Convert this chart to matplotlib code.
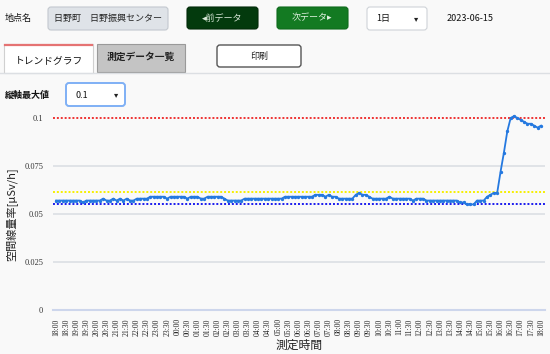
import matplotlib
matplotlib.use("Agg")
import matplotlib.pyplot as plt
from matplotlib.patches import FancyBboxPatch, Rectangle
import numpy as np
import pandas as pd

plt.rcParams['font.family'] = ['Noto Sans CJK JP', 'DejaVu Sans']

# データ (10分間隔, 18:00 〜 翌18:00)
dose_rate = [
    0.057, 0.057, 0.057, 0.057, 0.057, 0.057, 0.057, 0.057, 0.056, 0.057, 0.057, 0.057,
    0.057, 0.057, 0.058, 0.057, 0.057, 0.058, 0.057, 0.058, 0.057, 0.058, 0.057, 0.057,
    0.058, 0.058, 0.058, 0.058, 0.059, 0.059, 0.059, 0.059, 0.059, 0.058, 0.059, 0.059,
    0.059, 0.059, 0.059, 0.058, 0.059, 0.059, 0.059, 0.058, 0.058, 0.059, 0.059, 0.059,
    0.059, 0.059, 0.058, 0.057, 0.057, 0.057, 0.057, 0.057, 0.058, 0.058, 0.058, 0.058,
    0.058, 0.058, 0.058, 0.058, 0.058, 0.058, 0.058, 0.058, 0.059, 0.059, 0.059, 0.059,
    0.059, 0.059, 0.059, 0.059, 0.059, 0.060, 0.060, 0.060, 0.059, 0.060, 0.059, 0.059,
    0.058, 0.058, 0.058, 0.058, 0.058, 0.060, 0.061, 0.060, 0.060, 0.059, 0.058, 0.058,
    0.058, 0.058, 0.058, 0.059, 0.058, 0.058, 0.058, 0.058, 0.058, 0.058, 0.057, 0.058,
    0.058, 0.058, 0.057, 0.057, 0.057, 0.057, 0.057, 0.057, 0.057, 0.057, 0.057, 0.057,
    0.056, 0.056, 0.055, 0.055, 0.055, 0.057, 0.057, 0.057, 0.059, 0.060, 0.061, 0.061,
    0.072, 0.082, 0.093, 0.100, 0.101, 0.100, 0.099, 0.098, 0.097, 0.097, 0.096, 0.095,
    0.096,
]
y_ticks = [0, 0.025, 0.05, 0.075, 0.1]
y_tick_labels = ["0", "0.025", "0.05", "0.075", "0.1"]
x_tick_labels = list(pd.date_range("2023-06-14 18:00", "2023-06-15 18:00", freq="30min").strftime("%H:%M"))
limit_red = 0.1
limit_yellow = 0.0615
limit_blue = 0.0552

W, H = 550, 354
fig = plt.figure(figsize=(W / 100, H / 100), dpi=100)
fig.patch.set_facecolor("#f9f9f9")

# 画面部品 (ピクセル座標)
ui = fig.add_axes([0, 0, 1, 1])
ui.set_xlim(0, W)
ui.set_ylim(H, 0)
ui.axis("off")


def box(x0, y0, x1, y1, fc, ec, lw=0.8, r=3):
    ui.add_patch(FancyBboxPatch((x0, y0), x1 - x0, y1 - y0,
                                boxstyle=f"round,pad=0,rounding_size={r}",
                                fc=fc, ec=ec, lw=lw))


fs = 6.5
ui.text(5, 18.5, "地点名", fontsize=fs, va="center", color="#111")
box(48, 7, 168, 30, "#dfe3e8", "#c3c8cf")
ui.text(108, 18.5, "日野町　日野振興センター", fontsize=fs, ha="center", va="center", color="#222")
box(187, 7, 258, 29, "#033a0d", "#022a08")
ui.text(222, 18, "◂前データ", fontsize=fs, ha="center", va="center", color="#d8e8d8")
box(277, 7, 348, 29, "#137a22", "#0f6a1c")
ui.text(312, 18, "次データ▸", fontsize=fs, ha="center", va="center", color="#e0f0e0")
box(367, 7, 427, 30, "white", "#cfd3d8")
ui.text(376, 18.5, "1日", fontsize=fs, va="center", color="#111")
ui.text(416, 18.5, "▾", fontsize=6, ha="center", va="center", color="#222", family="DejaVu Sans")
ui.text(447, 18.5, "2023-06-15", fontsize=fs, va="center", color="#111")

ui.plot([0, W], [72.5, 72.5], color="#dcdfe3", lw=1)
ui.add_patch(Rectangle((4, 44), 89, 29, fc="white", ec="#d0d0d0", lw=0.8))
ui.plot([5, 92], [44.5, 44.5], color="#e57373", lw=1.6)
ui.text(48.5, 60, "トレンドグラフ", fontsize=7, ha="center", va="center", color="#111")
ui.add_patch(Rectangle((97, 44), 88, 28, fc="#c4c4c4", ec="#9a9a9a", lw=0.8))
ui.text(141, 57, "測定データ一覧", fontsize=7, ha="center", va="center", color="#222", weight="bold")
box(217, 45, 301, 67, "white", "#555", lw=1)
ui.text(259, 56, "印刷", fontsize=fs, ha="center", va="center", color="#222")

ui.text(5, 95, "縦軸最大値", fontsize=fs, va="center", color="#111", weight="bold")
box(66, 83, 125, 106, "white", "#7fb0f5", lw=1.4)
ui.text(75, 95, "0.1", fontsize=fs, va="center", color="#111")
ui.text(116, 95, "▾", fontsize=6, ha="center", va="center", color="#222", family="DejaVu Sans")

# グラフ
ax = fig.add_axes([53 / W, 44 / H, 492 / W, 192 / H])
ax.set_facecolor("none")
x = np.arange(len(dose_rate))
ax.set_xlim(-0.9, len(dose_rate) - 1 + 1.2)
ax.set_ylim(0, 0.1)

for v in y_ticks[1:-1]:
    ax.axhline(v, color="#dcdfe4", lw=1.2, zorder=1)
ax.axhline(0, color="#cdd6ec", lw=1.5, zorder=1, clip_on=False)

ax.axhline(limit_red, color="#ee3333", lw=1.4, ls=(0, (1, 1)), zorder=2, clip_on=False)
ax.axhline(limit_yellow, color="#f6ef00", lw=1.4, ls=(0, (1, 1)), zorder=2)
ax.axhline(limit_blue, color="#1a1aee", lw=1.4, ls=(0, (1, 1)), zorder=2)

ax.plot(x, dose_rate, color="#2579e0", lw=1.3, marker="o", ms=1.4, zorder=3, clip_on=False)

for s in ax.spines.values():
    s.set_visible(False)
ax.set_yticks(y_ticks)
ax.set_yticklabels(y_tick_labels, family="Liberation Serif", fontsize=6, color="#333")
ax.set_xticks(x[::3])
ax.set_xticklabels(x_tick_labels, family="Liberation Serif", fontsize=5.5, color="#222", rotation=90)
ax.tick_params(length=0, pad=6)
ax.tick_params(axis="y", pad=7)
ax.set_ylabel("空間線量率[μSv/h]", fontsize=8, color="#222", labelpad=4)
ax.set_xlabel("測定時間", fontsize=8.5, color="#222", labelpad=2)

fig.savefig("out.png", dpi=100, facecolor=fig.get_facecolor())
